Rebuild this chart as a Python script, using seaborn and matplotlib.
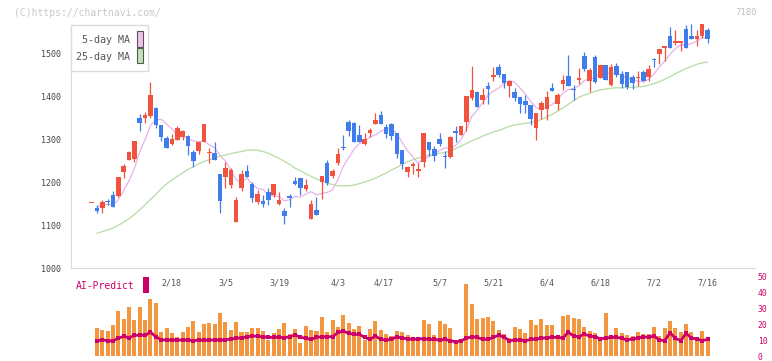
import numpy as np
import pandas as pd
import matplotlib.pyplot as plt
from matplotlib.patches import Rectangle
import seaborn as sns

# --- data (one candle per trading day) ---
opens = [1152, 1141, 1141, 1156, 1171, 1169, 1225, 1253, 1255, 1351,
         1350, 1356, 1373, 1333, 1304, 1290, 1298, 1306, 1308, 1272,
         1274, 1295, 1268, 1268, 1219, 1212, 1194, 1108, 1187, 1227,
         1196, 1155, 1157, 1177, 1171, 1150, 1132, 1169, 1203, 1211,
         1184, 1115, 1136, 1202, 1245, 1216, 1245, 1282, 1340, 1338,
         1311, 1290, 1316, 1336, 1357, 1329, 1336, 1315, 1276, 1225,
         1239, 1227, 1247, 1294, 1278, 1301, 1261, 1260, 1320, 1311,
         1341, 1398, 1411, 1393, 1425, 1446, 1469, 1453, 1424, 1412,
         1400, 1391, 1381, 1328, 1368, 1371, 1421, 1383, 1430, 1449,
         1418, 1438, 1495, 1437, 1492, 1443, 1474, 1428, 1473, 1453,
         1458, 1447, 1445, 1458, 1447, 1489, 1500, 1514, 1542, 1525,
         1525, 1558, 1542, 1534, 1541, 1555]
highs = [1152, 1146, 1159, 1161, 1179, 1213, 1242, 1273, 1297, 1359,
         1364, 1435, 1376, 1334, 1309, 1312, 1331, 1322, 1311, 1276,
         1295, 1336, 1280, 1295, 1220, 1247, 1233, 1167, 1229, 1241,
         1202, 1182, 1171, 1187, 1196, 1177, 1140, 1172, 1213, 1211,
         1208, 1159, 1167, 1216, 1252, 1231, 1280, 1311, 1346, 1342,
         1334, 1315, 1326, 1361, 1367, 1336, 1338, 1315, 1276, 1239,
         1247, 1245, 1316, 1294, 1284, 1315, 1273, 1309, 1332, 1332,
         1402, 1472, 1414, 1421, 1435, 1470, 1476, 1453, 1437, 1420,
         1400, 1403, 1381, 1363, 1389, 1414, 1432, 1408, 1451, 1497,
         1428, 1468, 1505, 1467, 1498, 1474, 1474, 1476, 1478, 1460,
         1458, 1451, 1460, 1462, 1474, 1491, 1512, 1519, 1563, 1555,
         1530, 1567, 1570, 1556, 1570, 1560]
lows = [1152, 1128, 1129, 1147, 1143, 1167, 1211, 1252, 1248, 1320,
        1339, 1350, 1327, 1297, 1281, 1287, 1298, 1299, 1264, 1237,
        1266, 1295, 1245, 1252, 1129, 1188, 1188, 1108, 1179, 1212,
        1155, 1150, 1143, 1147, 1167, 1147, 1103, 1143, 1194, 1171,
        1179, 1115, 1124, 1161, 1194, 1210, 1240, 1276, 1308, 1294,
        1294, 1287, 1307, 1336, 1336, 1303, 1299, 1257, 1231, 1213,
        1219, 1213, 1237, 1262, 1250, 1286, 1233, 1258, 1295, 1311,
        1320, 1393, 1377, 1383, 1383, 1437, 1446, 1421, 1400, 1391,
        1363, 1362, 1334, 1298, 1348, 1345, 1414, 1369, 1416, 1425,
        1393, 1430, 1460, 1412, 1432, 1443, 1438, 1424, 1447, 1421,
        1418, 1418, 1424, 1436, 1437, 1470, 1476, 1483, 1514, 1520,
        1507, 1514, 1534, 1518, 1537, 1525]
closes = [1152, 1133, 1155, 1154, 1143, 1213, 1239, 1270, 1297, 1338,
          1357, 1403, 1333, 1307, 1281, 1301, 1328, 1319, 1286, 1249,
          1295, 1336, 1272, 1252, 1157, 1234, 1229, 1159, 1219, 1212,
          1164, 1173, 1150, 1158, 1196, 1159, 1122, 1163, 1196, 1188,
          1194, 1150, 1124, 1216, 1198, 1227, 1266, 1280, 1319, 1294,
          1294, 1301, 1322, 1346, 1336, 1313, 1309, 1266, 1243, 1237,
          1244, 1231, 1316, 1276, 1262, 1290, 1259, 1307, 1315, 1332,
          1402, 1416, 1377, 1404, 1417, 1451, 1451, 1433, 1437, 1398,
          1383, 1380, 1348, 1363, 1385, 1400, 1414, 1403, 1440, 1425,
          1415, 1445, 1465, 1463, 1434, 1474, 1438, 1469, 1450, 1430,
          1423, 1433, 1447, 1436, 1465, 1487, 1512, 1519, 1514, 1530,
          1530, 1514, 1534, 1542, 1570, 1535]

# 25-day MA as drawn (from the 2nd candle on)
ma25 = [1081, 1085, 1089, 1093, 1100, 1107, 1115, 1125, 1136, 1148,
        1160, 1172, 1185, 1196, 1206, 1214, 1222, 1230, 1237, 1243,
        1249, 1253, 1257, 1261, 1264, 1267, 1270, 1272, 1275, 1276,
        1275, 1272, 1268, 1262, 1256, 1249, 1242, 1233, 1227, 1220,
        1214, 1208, 1203, 1198, 1195, 1192, 1192, 1192, 1194, 1197,
        1201, 1205, 1210, 1216, 1222, 1229, 1235, 1242, 1248, 1253,
        1257, 1261, 1264, 1266, 1268, 1270, 1273, 1279, 1285, 1291,
        1297, 1302, 1308, 1313, 1318, 1321, 1326, 1331, 1334, 1336,
        1338, 1340, 1343, 1347, 1353, 1359, 1366, 1374, 1382, 1391,
        1399, 1404, 1408, 1413, 1416, 1418, 1420, 1421, 1421, 1422,
        1422, 1423, 1424, 1427, 1431, 1435, 1441, 1447, 1454, 1460,
        1466, 1471, 1476, 1479, 1481]

# lower panel (from the 2nd candle on)
volume = [17.8, 16.6, 15.9, 19.7, 28.4, 23.4, 30.9, 22.8, 30.9, 22.8,
          35.9, 33.4, 15.3, 17.8, 14.7, 12.2, 15.3, 18.4, 22.2, 15.3,
          20.3, 20.9, 20.3, 27.2, 21.6, 16.6, 21.6, 15.3, 15.3, 17.8,
          17.8, 15.9, 10.3, 14.7, 17.2, 20.9, 14.1, 17.2, 8.4, 19.1,
          16.6, 15.9, 24.7, 15.3, 22.8, 18.4, 25.9, 20.9, 17.2, 19.1,
          10.3, 17.2, 22.2, 16.6, 14.1, 12.8, 15.9, 15.3, 13.4, 12.2,
          12.2, 22.8, 20.3, 13.4, 22.2, 20.3, 17.8, 8.4, 8.4, 45.3,
          32.8, 23.4, 24.1, 24.7, 22.2, 16.6, 13.8, 11.3, 18.4, 17.2,
          14.7, 22.8, 19.7, 23.4, 19.7, 19.7, 13.4, 25.3, 25.9, 24.1,
          23.4, 18.4, 15.9, 14.7, 12.2, 27.2, 13.4, 17.8, 14.7, 13.4,
          12.8, 15.3, 14.1, 14.1, 18.4, 12.8, 17.8, 22.2, 17.8, 15.3,
          20.3, 15.3, 12.2, 15.9, 12.2]
ai_predict = [9.5, 10.2, 9.7, 9.5, 11.3, 12.4, 11.6, 13.0, 13.2, 13.0,
              15.1, 12.2, 10.3, 10.1, 10.1, 10.1, 10.1, 10.1, 9.7, 10.1,
              9.9, 10.1, 10.2, 10.1, 10.3, 10.7, 11.2, 11.6, 12.0, 12.8,
              12.4, 12.2, 11.8, 11.8, 11.8, 11.6, 12.2, 13.3, 11.8, 11.2,
              10.5, 11.8, 12.2, 12.2, 12.2, 14.9, 15.7, 14.4, 13.7, 13.7,
              11.8, 10.5, 12.7, 10.5, 10.1, 10.5, 12.2, 11.3, 10.9, 10.5,
              10.9, 10.9, 10.5, 10.5, 10.1, 10.5, 9.7, 9.0, 9.7, 11.2,
              12.2, 11.8, 10.5, 10.5, 11.8, 13.1, 12.0, 9.7, 10.1, 10.1,
              9.7, 10.5, 10.7, 11.2, 11.6, 11.8, 11.8, 11.3, 15.1, 12.6,
              12.2, 13.9, 12.6, 12.2, 10.9, 11.3, 11.8, 11.8, 11.2, 10.1,
              10.9, 11.2, 12.2, 11.8, 12.7, 10.1, 9.7, 14.7, 11.2, 9.7,
              14.4, 11.2, 10.9, 9.7, 10.5]

date_labels = ['2/18', '3/5', '3/19', '4/3', '4/17', '5/7', '5/21', '6/4', '6/18', '7/2', '7/16']
date_candle = [15, 25, 35, 46, 54.5, 65, 75, 85, 95, 105, 115]
price_ticks = [1000, 1100, 1200, 1300, 1400, 1500]
ai_ticks = [0, 10, 20, 30, 40, 50]

RED, BLUE = '#f2533f', '#407dec'
PINK, GREEN = '#e8b2ea', '#b6dba6'
ORANGE, MAG = '#f2973f', '#cc0066'
GRID = '#dcdcdc'

sns.set_style('white')
plt.rcParams['font.family'] = ['DejaVu Sans Mono', 'DejaVu Sans']

W, H = 772, 361
fig = plt.figure(figsize=(W / 100, H / 100), dpi=100)
fx = lambda px: px / W
fy = lambda py: 1 - py / H

ax = fig.add_axes([fx(71), fy(268), fx(755) - fx(71), fy(15) - fy(268)])
ax2 = fig.add_axes([fx(71), fy(356), fx(755) - fx(71), fy(277) - fy(356)])
xl = (-3.83, 123.86)

# --- candles ---
df = pd.DataFrame({'o': opens, 'h': highs, 'l': lows, 'c': closes})
df['idx'] = np.arange(len(df))
cols = np.where(df.c >= df.o, RED, BLUE)
ax.vlines(df.idx, df.l, df.h, colors=cols, linewidth=0.9, zorder=2)
ax.bar(df.idx, (df.c - df.o).abs().clip(lower=2), bottom=df[['o', 'c']].min(axis=1),
       width=0.85, color=cols, linewidth=0, zorder=3)

# moving averages
ma5 = df.c.rolling(5, min_periods=1).mean()
sns.lineplot(x=df.idx[1:], y=ma5[1:], color=PINK, linewidth=0.9, ax=ax, zorder=1)
sns.lineplot(x=np.arange(1, len(df)), y=ma25, color=GREEN, linewidth=0.9, ax=ax, zorder=1)

ax.set_xlim(xl)
ax.set_ylim(1000, 1591)
ax.set_xlabel('')
ax.set_ylabel('')
ax.spines['top'].set_visible(False)
ax.spines['right'].set_visible(False)
ax.spines['left'].set_color(GRID)
ax.spines['bottom'].set_color(GRID)
ax.spines['left'].set_bounds(1000, 1568)
ax.set_yticks(price_ticks)
ax.tick_params(axis='y', length=5, width=1, color=GRID, labelsize=6, labelcolor='#444', pad=2)
ax.set_xticks(np.linspace(xl[0], xl[1], 12))
ax.tick_params(axis='x', direction='inout', length=6, width=1, color=GRID, labelbottom=False)
ax.patch.set_alpha(0)

for p, lab in zip(date_candle, date_labels):
    ax.text(p, -15 / 253, lab, transform=ax.get_xaxis_transform(), ha='center', va='center',
            fontsize=6, color='#555555')

# --- AI-Predict panel ---
vidx = np.arange(1, len(df))
sns.barplot(x=vidx, y=volume, native_scale=True, width=0.75, color=ORANGE, saturation=1,
            errorbar=None, linewidth=0, ax=ax2)
sns.lineplot(x=vidx, y=ai_predict, color=MAG, linewidth=2, marker='s', markersize=3,
             markeredgewidth=0, ax=ax2)
ax2.set_xlim(xl)
ax2.set_ylim(0, 50)
ax2.set_xlabel('')
ax2.set_ylabel('')
for s in ax2.spines.values():
    s.set_visible(False)
ax2.yaxis.tick_right()
ax2.set_yticks(ai_ticks)
ax2.tick_params(axis='y', length=0, labelsize=5.8, labelcolor=MAG, pad=2)
ax2.tick_params(axis='x', bottom=False, labelbottom=False)
ax2.patch.set_alpha(0)

fig.text(fx(76), fy(286), 'AI-Predict', color=MAG, fontsize=7, ha='left', va='center')
fig.add_artist(Rectangle((fx(143), fy(293)), fx(149) - fx(143), fy(277) - fy(293),
                         transform=fig.transFigure, color=MAG, linewidth=0))

# --- legend box ---
fig.add_artist(Rectangle((fx(70.7), fy(71)), fx(148) - fx(70.7), fy(25) - fy(71),
                         transform=fig.transFigure, facecolor='white', edgecolor=GRID, linewidth=1))
fig.text(fx(130), fy(40), '5-day MA', color='#555555', fontsize=7.2, ha='right', va='center')
fig.text(fx(130), fy(56.5), '25-day MA', color='#555555', fontsize=7.2, ha='right', va='center')
fig.add_artist(Rectangle((fx(136.5), fy(46.5)), fx(142.5) - fx(136.5), fy(31.5) - fy(46.5),
                         transform=fig.transFigure, facecolor='#f0c0f0', edgecolor='#555555', linewidth=0.8))
fig.add_artist(Rectangle((fx(136.5), fy(63)), fx(142.5) - fx(136.5), fy(48.5) - fy(63),
                         transform=fig.transFigure, facecolor='#c2e2b2', edgecolor='#555555', linewidth=0.8))

fig.text(fx(14), fy(12.5), '(C)https://chartnavi.com/', color='#c8c8c8', fontsize=7, ha='left', va='center')
fig.text(fx(757), fy(12.5), '7180', color='#c0c0c0', fontsize=6.5, ha='right', va='center')

fig.savefig('out.png', dpi=100)
